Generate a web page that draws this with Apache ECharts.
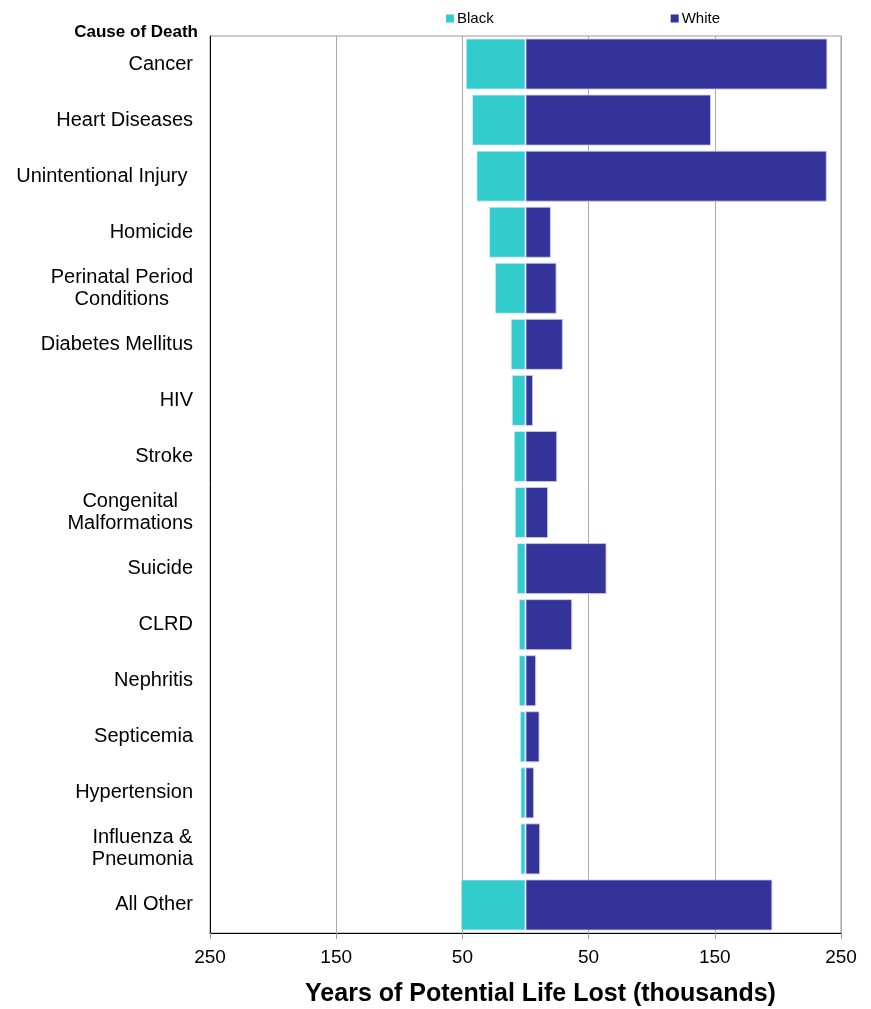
<!DOCTYPE html>
<html>
<head>
<meta charset="utf-8">
<script src="https://cdn.jsdelivr.net/npm/echarts@6/dist/echarts.min.js"></script>
<style>
html,body{margin:0;padding:0;background:#fff;}
#chart{width:871px;height:1009px;}
</style>
</head>
<body>
<div id="chart"></div>
<script>
var categories = [
  'Cancer', 'Heart Diseases', 'Unintentional Injury ', 'Homicide',
  'Perinatal Period\nConditions', 'Diabetes Mellitus', 'HIV', 'Stroke',
  'Congenital\nMalformations', 'Suicide', 'CLRD', 'Nephritis',
  'Septicemia', 'Hypertension', 'Influenza &\nPneumonia', 'All Other'
];
var blackValues = [47.3, 42.4, 38.9, 28.9, 24.3, 11.7, 10.9, 9.3, 8.5, 6.9, 5.3, 5.3, 4.5, 4.0, 4.0, 51.3];
var whiteValues = [239.2, 147.0, 238.7, 20.1, 24.6, 29.6, 6.0, 25.1, 17.9, 64.2, 37.0, 8.4, 11.1, 6.8, 11.6, 195.6];
var seriesNames = ['Black', 'White'];
var axisTitle = 'Years of Potential Life Lost (thousands)';
var categoryTitle = 'Cause of Death';

var FONT = '"Liberation Sans", Arial, sans-serif';
var chart = echarts.init(document.getElementById('chart'), null, {renderer: 'canvas'});

var option = {
  animation: false,
  backgroundColor: '#ffffff',
  legend: {
    data: seriesNames,
    left: 441,
    top: 6,
    icon: 'rect',
    itemWidth: 8,
    itemHeight: 8,
    itemGap: 177,
    itemStyle: {borderWidth: 0},
    textStyle: {fontFamily: FONT, fontSize: 15, color: '#000', padding: [0, 0, 0, -2]}
  },
  graphic: [{
    type: 'text',
    style: {
      text: categoryTitle,
      x: 198, y: 32,
      textAlign: 'right',
      textVerticalAlign: 'middle',
      fontFamily: FONT,
      fontSize: 17,
      fontWeight: 'bold',
      fill: '#000'
    }
  }],
  grid: {
    left: 210, right: 30, top: 36, bottom: 76,
    show: true,
    borderColor: '#999',
    borderWidth: 1,
    containLabel: false,
    outerBoundsMode: 'none'
  },
  xAxis: {
    type: 'value',
    min: -250,
    max: 250,
    interval: 100,
    axisLine: {show: true, lineStyle: {color: '#000', width: 1}},
    axisTick: {show: true, length: 6, lineStyle: {color: '#999'}},
    splitLine: {show: true, lineStyle: {color: '#aaa', width: 1}},
    axisLabel: {
      formatter: function (v) { return String(Math.abs(v)); },
      fontFamily: FONT, fontSize: 19, color: '#000', margin: 15
    },
    name: axisTitle,
    nameLocation: 'middle',
    nameGap: 49,
    nameTextStyle: {
      fontFamily: FONT, fontSize: 25, fontWeight: 'bold', color: '#000',
      padding: [0, 0, 0, 30]
    }
  },
  yAxis: {
    type: 'category',
    inverse: true,
    data: categories,
    axisLine: {show: true, onZero: false, lineStyle: {color: '#000', width: 1}},
    axisTick: {show: false},
    splitLine: {show: false},
    axisLabel: {
      margin: 17,
      interval: 0,
      fontFamily: FONT, fontSize: 20, color: '#000',
      formatter: function (v) {
        return v.split('\n').map(function (s) { return '{c|' + s + '}'; }).join('\n');
      },
      rich: {
        c: {align: 'center', fontFamily: FONT, fontSize: 20, lineHeight: 22, color: '#000'}
      }
    }
  },
  series: [
    {
      name: seriesNames[0],
      type: 'bar',
      stack: 'total',
      barCategoryGap: '9%',
      itemStyle: {color: '#33CCCC', borderColor: 'rgba(225,235,255,0.75)', borderWidth: 1},
      data: blackValues.map(function (v) { return -v; })
    },
    {
      name: seriesNames[1],
      type: 'bar',
      stack: 'total',
      barCategoryGap: '9%',
      itemStyle: {color: '#333399', borderColor: 'rgba(200,200,245,0.85)', borderWidth: 1},
      data: whiteValues
    }
  ]
};
chart.setOption(option);
</script>
</body>
</html>
